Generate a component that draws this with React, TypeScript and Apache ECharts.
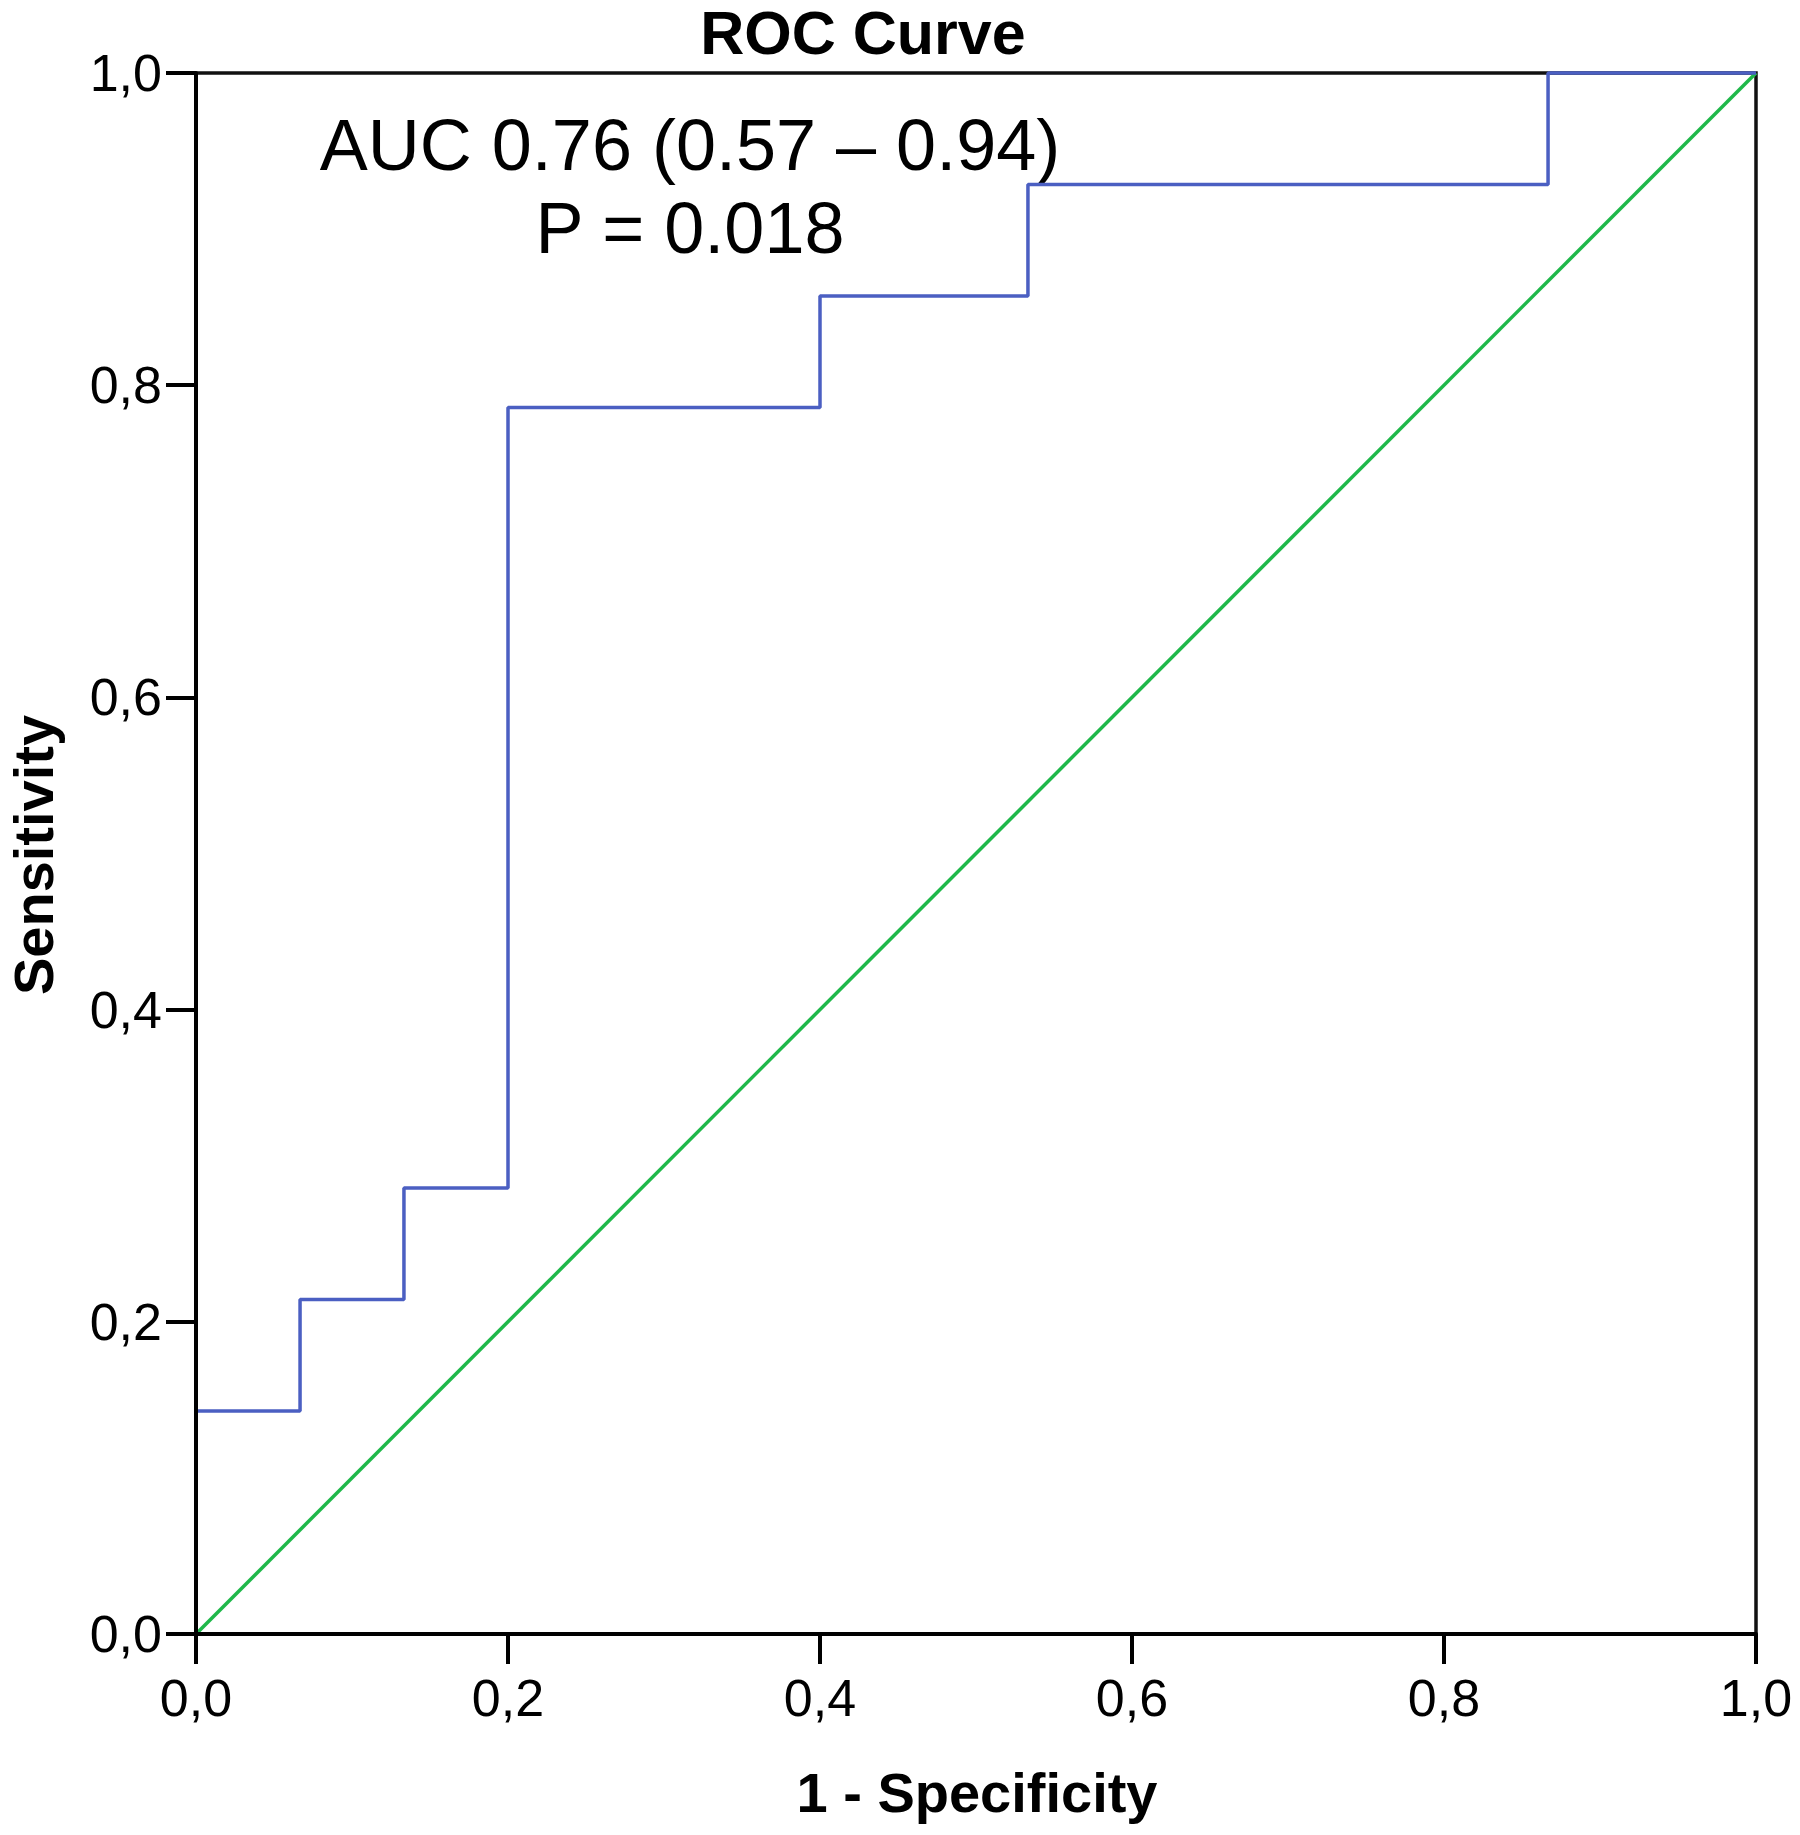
import React, { useEffect, useRef } from 'react';
import * as echarts from 'echarts';

// ROC curve vertices (1 - Specificity, Sensitivity)
const rocFpr = [0, 0, 0.0667, 0.0667, 0.1333, 0.1333, 0.2, 0.2, 0.4, 0.4, 0.5333, 0.5333, 0.8667, 0.8667, 1];
const rocTpr = [0, 0.1429, 0.1429, 0.2143, 0.2143, 0.2857, 0.2857, 0.7857, 0.7857, 0.8571, 0.8571, 0.9286, 0.9286, 1, 1];
// reference diagonal
const refFpr = [0, 1];
const refTpr = [0, 1];

const titleText = 'ROC Curve';
const aucText = 'AUC 0.76 (0.57 – 0.94)';
const pText = 'P = 0.018';
const xName = '1 - Specificity';
const yName = 'Sensitivity';

const FONT = "'Liberation Sans', Arial, sans-serif";

const fmt = (v: number) => v.toFixed(1).replace('.', ',');

export default function App() {
  const ref = useRef<HTMLDivElement>(null);
  useEffect(() => {
    document.body.style.margin = '0';
    const chart = echarts.init(ref.current!, null, { renderer: 'svg' });
    const axisCommon = {
      type: 'value',
      min: 0,
      max: 1,
      interval: 0.2,
      z: 5,
      axisLine: { show: true, onZero: false, lineStyle: { color: '#000', width: 4 } },
      axisTick: { show: true, length: 30, lineStyle: { color: '#000', width: 4 } },
      splitLine: { show: false },
    };
    chart.setOption({
      animation: false,
      backgroundColor: '#fff',
      grid: {
        left: 196,
        right: 44,
        top: 73,
        bottom: 201,
        show: true,
        borderColor: '#111',
        borderWidth: 3.5,
        backgroundColor: 'transparent',
      },
      xAxis: {
        ...axisCommon,
        position: 'bottom',
        axisLabel: { margin: 38, fontSize: 52, color: '#000', fontFamily: FONT, formatter: fmt },
      },
      yAxis: {
        ...axisCommon,
        position: 'left',
        axisLabel: { margin: 34, fontSize: 52, color: '#000', fontFamily: FONT, formatter: fmt },
      },
      series: [
        {
          type: 'line',
          data: refFpr.map((x, i) => [x, refTpr[i]]),
          showSymbol: false,
          symbol: 'none',
          clip: false,
          lineStyle: { color: '#1fb84a', width: 3.5 },
          z: 2,
        },
        {
          type: 'line',
          data: rocFpr.map((x, i) => [x, rocTpr[i]]),
          showSymbol: false,
          symbol: 'none',
          clip: false,
          lineStyle: { color: '#4b5fc2', width: 3.5 },
          z: 3,
        },
      ],
      graphic: [
        {
          type: 'text',
          x: 863,
          y: 33,
          style: { text: titleText, font: `bold 61px ${FONT}`, fill: '#000', align: 'center', verticalAlign: 'middle' },
        },
        {
          type: 'text',
          x: 690,
          y: 145,
          style: { text: aucText, font: `72px ${FONT}`, fill: '#000', align: 'center', verticalAlign: 'middle' },
        },
        {
          type: 'text',
          x: 690,
          y: 228,
          style: { text: pText, font: `72px ${FONT}`, fill: '#000', align: 'center', verticalAlign: 'middle' },
        },
        {
          type: 'text',
          x: 977,
          y: 1792,
          style: { text: xName, font: `bold 56px ${FONT}`, fill: '#000', align: 'center', verticalAlign: 'middle' },
        },
        {
          type: 'text',
          x: 33,
          y: 855,
          rotation: Math.PI / 2,
          style: { text: yName, font: `bold 56px ${FONT}`, fill: '#000', align: 'center', verticalAlign: 'middle' },
        },
      ],
    });
    return () => chart.dispose();
  }, []);
  return <div ref={ref} style={{ width: 1800, height: 1835 }} />;
}
